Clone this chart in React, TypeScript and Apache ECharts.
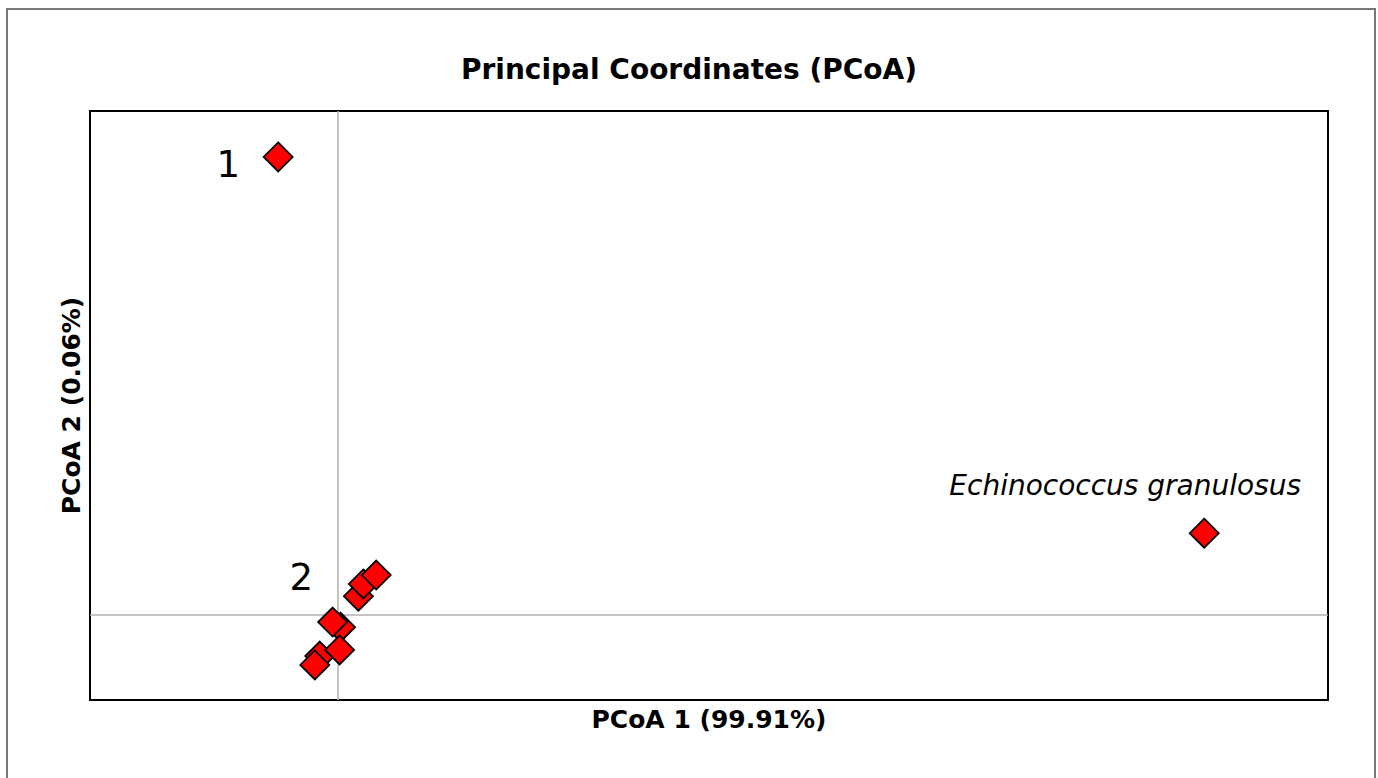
import React, { useEffect, useRef } from "react";
import * as echarts from "echarts";

const pc1 = [-0.06, 0.875, 0.021, 0.026, 0.039, 0.003, -0.005, -0.018, 0.002, -0.023];
const pc2 = [0.1345, 0.024, 0.0055, 0.0091, 0.0117, -0.0036, -0.0021, -0.0121, -0.0103, -0.0147];
const sampleLabels = ["1", "Echinococcus granulosus", "", "", "2", "", "", "", "", ""];
const labelOffsets: [number, number][] = [[-50, 8], [-79, -48], [0, 0], [0, 0], [-75, 2], [0, 0], [0, 0], [0, 0], [0, 0], [0, 0]];

const titleText = "Principal Coordinates (PCoA)";
const xName = "PCoA 1 (99.91%)";
const yName = "PCoA 2 (0.06%)";

export default function App() {
  const ref = useRef<HTMLDivElement>(null);
  useEffect(() => {
    document.body.style.margin = "0";
    const chart = echarts.init(ref.current!, null, { renderer: "svg" });
    const data = pc1.map((x, i) => {
      const lbl = sampleLabels[i];
      const item: any = { value: [x, pc2[i]] };
      if (lbl) {
        item.label = {
          show: true,
          formatter: lbl,
          position: "inside",
          offset: labelOffsets[i],
          color: "#000",
          fontFamily: "DejaVu Sans",
          fontSize: lbl.length > 2 ? 28 : 37,
          fontStyle: lbl.length > 2 ? "italic" : "normal",
        };
      }
      return item;
    });
    chart.setOption({
      animation: false,
      backgroundColor: "#fff",
      title: {
        text: titleText,
        left: "center",
        top: 50,
        textStyle: { fontFamily: "DejaVu Sans", fontWeight: "bold", fontSize: 28, color: "#000" },
      },
      graphic: [
        {
          type: "rect",
          shape: { x: 7, y: 9, width: 1368, height: 820 },
          style: { fill: "none", stroke: "#777", lineWidth: 2 },
          silent: true,
        },
      ],
      grid: {
        left: 90,
        top: 111,
        width: 1238,
        height: 589,
        show: true,
        borderColor: "#000",
        borderWidth: 2,
        backgroundColor: "transparent",
      },
      xAxis: {
        type: "value",
        min: -0.25,
        max: 1.0,
        name: xName,
        nameLocation: "middle",
        nameGap: 7,
        nameTextStyle: { fontFamily: "DejaVu Sans", fontWeight: "bold", fontSize: 25, color: "#000", verticalAlign: "top" },
        axisLine: { show: false },
        axisTick: { show: false },
        axisLabel: { show: false },
        splitLine: { show: false },
      },
      yAxis: {
        type: "value",
        min: -0.025,
        max: 0.148,
        name: yName,
        nameLocation: "middle",
        nameGap: 6,
        nameRotate: 90,
        nameTextStyle: { fontFamily: "DejaVu Sans", fontWeight: "bold", fontSize: 25, color: "#000" },
        axisLine: { show: false },
        axisTick: { show: false },
        axisLabel: { show: false },
        splitLine: { show: false },
      },
      series: [
        {
          type: "scatter",
          symbol: "diamond",
          symbolSize: 29,
          itemStyle: { color: "#ff0000", borderColor: "#000", borderWidth: 1.8, opacity: 1 },
          data,
          markLine: {
            silent: true,
            symbol: "none",
            label: { show: false },
            lineStyle: { color: "#b0b0b0", width: 1.5, type: "solid" },
            data: [{ xAxis: 0 }, { yAxis: 0 }],
            z: 1,
          },
          z: 3,
        },
      ],
    });
    return () => chart.dispose();
  }, []);
  return <div ref={ref} style={{ width: 1378, height: 778 }} />;
}
